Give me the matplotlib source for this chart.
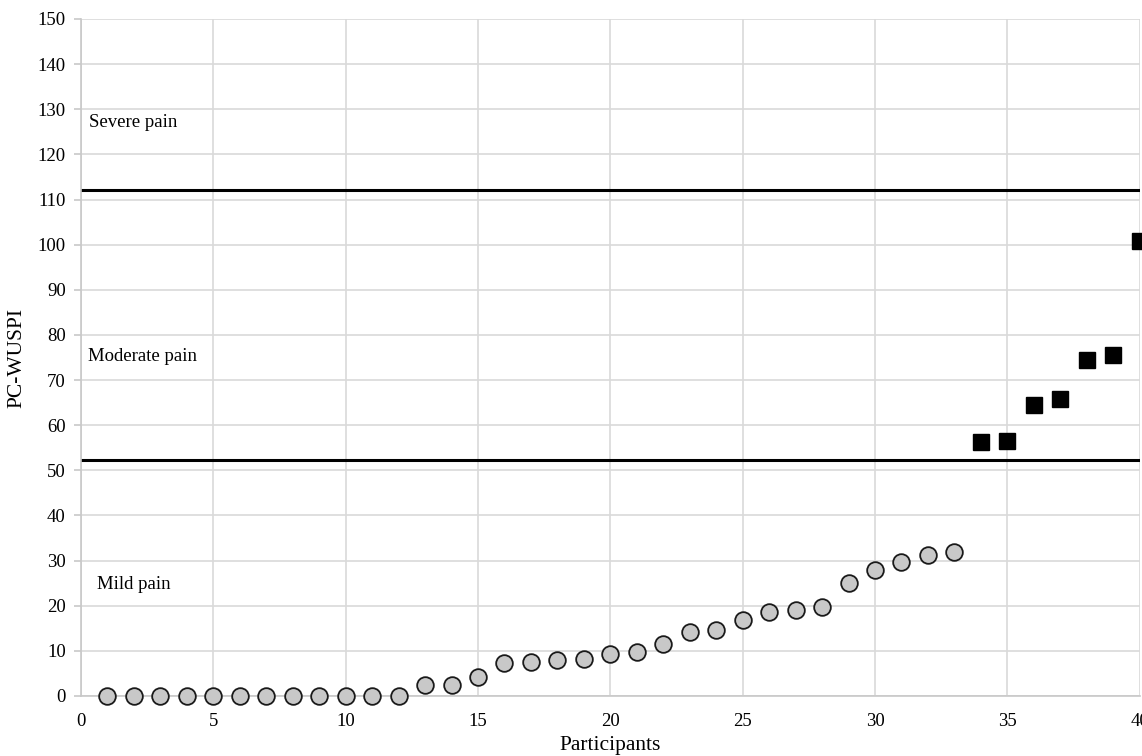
import matplotlib
matplotlib.use("Agg")
import matplotlib.pyplot as plt
import numpy as np

# PC-WUSPI score per participant, sorted ascending
mild_ids = list(range(1, 34))
mild_scores = [0, 0, 0, 0, 0, 0, 0, 0, 0, 0, 0, 0,
               2.5, 2.5, 4.3, 7.4, 7.6, 7.9, 8.3, 9.3, 9.7, 11.6,
               14.1, 14.7, 16.8, 18.5, 19.0, 19.8, 25.0, 28.0, 29.6, 31.3, 32.0]
moderate_ids = [34, 35, 36, 37, 38, 39, 40]
moderate_scores = [56.2, 56.6, 64.4, 65.8, 74.4, 75.6, 100.8]

# category cut-offs
cutoffs = [52.3, 112.2]
zone_labels = ["Mild pain", "Moderate pain", "Severe pain"]
zone_pos = [(0.6, 24.6), (0.26, 75.3), (0.3, 127.0)]

plt.rcParams['font.family'] = ['Liberation Serif', 'DejaVu Serif']

fig = plt.figure(figsize=(11.42, 7.56), dpi=100)
ax = fig.add_axes([0.0709, 0.0794, 0.998 - 0.0709, 0.9749 - 0.0794])

ax.set_xlim(0, 40)
ax.set_ylim(0, 150)
ax.set_xticks(np.arange(0, 41, 5))
ax.set_yticks(np.arange(0, 151, 10))
ax.grid(True, color='#d9d9d9', linewidth=1.2)
ax.set_axisbelow(True)
for side in ['top', 'right']:
    ax.spines[side].set_visible(False)
for side in ['left', 'bottom']:
    ax.spines[side].set_color('#c8c8c8')
    ax.spines[side].set_linewidth(1.2)
ax.tick_params(axis='y', length=5, width=1.2, color='#c8c8c8', labelsize=13.5, pad=6)
ax.tick_params(axis='x', length=0, labelsize=13.5, pad=12)

for c in cutoffs:
    ax.axhline(c, color='black', linewidth=2.2, zorder=2)

ax.plot(mild_ids, mild_scores, 'o', markersize=12, markerfacecolor='#c8c8c8',
        markeredgecolor='#1a1a1a', markeredgewidth=1.3, zorder=3, clip_on=False)
ax.plot(moderate_ids, moderate_scores, 's', markersize=11, color='black',
        zorder=3, clip_on=False)

for text, (x, y) in zip(zone_labels, zone_pos):
    ax.text(x, y, text, fontsize=13.5, va='center', ha='left')

ax.set_xlabel("Participants", fontsize=15.5, labelpad=4.5)
ax.set_ylabel("PC-WUSPI", fontsize=15.5, labelpad=8)

fig.savefig("out.png", dpi=100)
